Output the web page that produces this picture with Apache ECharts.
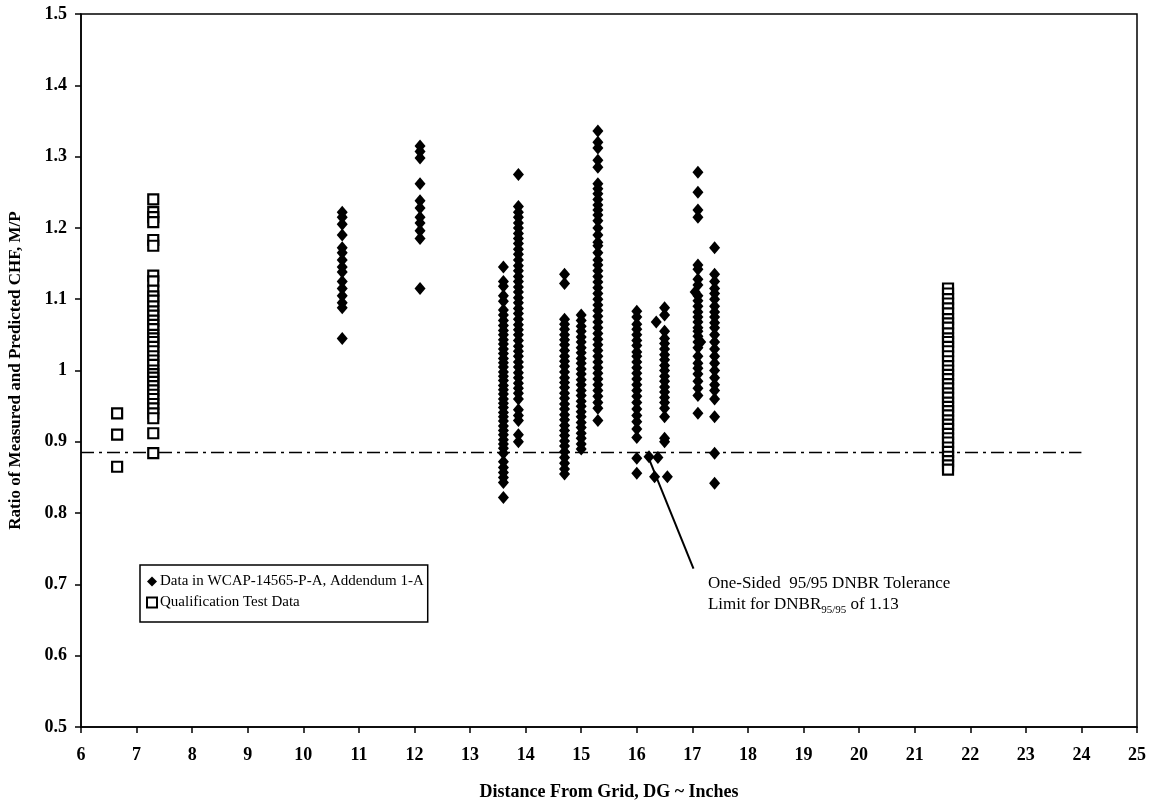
<!DOCTYPE html>
<html>
<head>
<meta charset="utf-8">
<script src="https://cdn.jsdelivr.net/npm/echarts@6/dist/echarts.min.js"></script>
<style>
  html, body { margin: 0; background: #fff; }
  #myChart { width: 1154px; height: 808px; }
</style>
</head>
<body>
<div id="myChart"></div>
<script>
// x ticks 6..25, y ticks 0.5..1.5
const xTicks = [6, 25, 1];
const yTicks = [0.5, 1.5, 0.1];

// WCAP-14565-P-A, Addendum 1-A data, one array per grid distance
const wcapX = [10.7, 12.1, 13.6, 13.87, 14.7, 15.0, 15.3, 16.0, 16.5, 17.1, 17.4];
const wcap107 = [1.222, 1.215, 1.205, 1.19, 1.172, 1.165, 1.155, 1.145, 1.138, 1.125, 1.115, 1.105, 1.095, 1.088, 1.045];
const wcap121 = [1.315, 1.307, 1.298, 1.262, 1.238, 1.228, 1.215, 1.207, 1.196, 1.185, 1.115];
const wcap136 = [1.145, 1.125, 1.118, 1.105, 1.097, 1.085, 1.078, 1.07, 1.063, 1.056, 1.05, 1.043, 1.037, 1.03, 1.024, 1.017, 1.011, 1.005, 0.998, 0.992, 0.986, 0.979, 0.973, 0.967, 0.96, 0.954, 0.948, 0.941, 0.935, 0.929, 0.922, 0.916, 0.91, 0.903, 0.897, 0.891, 0.884, 0.872, 0.864, 0.857, 0.85, 0.843, 0.822];
const wcap139 = [1.275, 1.23, 1.222, 1.215, 1.207, 1.2, 1.192, 1.185, 1.178, 1.17, 1.163, 1.155, 1.147, 1.14, 1.132, 1.125, 1.117, 1.11, 1.102, 1.095, 1.087, 1.08, 1.072, 1.064, 1.057, 1.05, 1.042, 1.034, 1.027, 1.02, 1.012, 1.005, 0.997, 0.99, 0.982, 0.975, 0.968, 0.96, 0.945, 0.937, 0.93, 0.91, 0.9];
const wcap147 = [1.135, 1.122, 1.072, 1.065, 1.058, 1.05, 1.043, 1.036, 1.028, 1.02, 1.013, 1.006, 0.998, 0.99, 0.983, 0.976, 0.968, 0.961, 0.953, 0.946, 0.938, 0.931, 0.923, 0.916, 0.909, 0.901, 0.894, 0.886, 0.878, 0.87, 0.862, 0.855];
const wcap150 = [1.078, 1.07, 1.062, 1.055, 1.047, 1.04, 1.032, 1.025, 1.017, 1.01, 1.002, 0.995, 0.987, 0.98, 0.972, 0.965, 0.957, 0.95, 0.942, 0.935, 0.927, 0.92, 0.912, 0.905, 0.897, 0.89];
const wcap153 = [1.336, 1.32, 1.312, 1.295, 1.285, 1.262, 1.255, 1.248, 1.24, 1.232, 1.225, 1.218, 1.21, 1.2, 1.19, 1.18, 1.175, 1.165, 1.155, 1.148, 1.14, 1.132, 1.124, 1.116, 1.108, 1.1, 1.092, 1.084, 1.076, 1.068, 1.06, 1.052, 1.044, 1.036, 1.028, 1.02, 1.012, 1.004, 0.996, 0.988, 0.98, 0.972, 0.964, 0.955, 0.947, 0.93];
const wcap160 = [1.083, 1.075, 1.065, 1.058, 1.05, 1.042, 1.035, 1.026, 1.02, 1.012, 1.004, 0.996, 0.988, 0.98, 0.972, 0.964, 0.955, 0.946, 0.937, 0.928, 0.918, 0.906, 0.877, 0.856];
const wcap165 = [1.088, 1.078, 1.055, 1.045, 1.038, 1.03, 1.022, 1.015, 1.007, 1.0, 0.992, 0.985, 0.977, 0.97, 0.962, 0.955, 0.947, 0.935, 0.905, 0.9];
const wcap171 = [1.278, 1.25, 1.225, 1.215, 1.148, 1.142, 1.128, 1.12, 1.105, 1.098, 1.09, 1.082, 1.075, 1.068, 1.06, 1.055, 1.048, 1.04, 1.032, 1.02, 1.01, 1.003, 0.995, 0.985, 0.975, 0.965, 0.94];
const wcap174 = [1.172, 1.135, 1.125, 1.115, 1.108, 1.1, 1.09, 1.082, 1.075, 1.067, 1.06, 1.05, 1.04, 1.03, 1.02, 1.01, 1.0, 0.99, 0.98, 0.972, 0.96, 0.935, 0.884, 0.842];
const wcapStray = [[16.22, 0.879], [16.38, 0.878], [16.32, 0.851], [16.55, 0.851], [16.35, 1.068], [17.05, 1.11], [17.15, 1.04]];

// qualification test data
const qualX = [6.65, 7.3, 21.6];
const qual665 = [0.94, 0.91, 0.865];
const qual73 = [1.24, 1.222, 1.215, 1.208, 1.183, 1.175, 1.133, 1.125, 1.112, 1.104, 1.098, 1.09, 1.083, 1.077, 1.07, 1.064, 1.058, 1.05, 1.045, 1.04, 1.033, 1.027, 1.02, 1.014, 1.008, 1.0, 0.995, 0.99, 0.984, 0.978, 0.972, 0.966, 0.96, 0.953, 0.947, 0.94, 0.933, 0.912, 0.884];
const qual216 = [1.115, 1.108, 1.1, 1.094, 1.087, 1.08, 1.072, 1.066, 1.06, 1.052, 1.045, 1.04, 1.033, 1.027, 1.02, 1.013, 1.006, 1.0, 0.994, 0.988, 0.981, 0.975, 0.968, 0.962, 0.955, 0.949, 0.943, 0.937, 0.93, 0.924, 0.918, 0.911, 0.905, 0.899, 0.892, 0.886, 0.879, 0.873, 0.867, 0.861];

// tolerance limit 1/1.13 and its annotation
const limitLine = [[6, 0.885], [24, 0.885]];
const arrowLine = [[17.02, 0.722], [16.2, 0.88]];
const noteAt = [17.28, 0.70];
const noteLines = ['One-Sided  95/95 DNBR Tolerance', 'Limit for DNBR{s|95/95} of 1.13'];

function columns(xs, cols) {
  let out = [];
  cols.forEach((vals, i) => vals.forEach(v => out.push([xs[i], v])));
  return out;
}

const wcapData = columns(wcapX, [wcap107, wcap121, wcap136, wcap139, wcap147, wcap150, wcap153, wcap160, wcap165, wcap171, wcap174]).concat(wcapStray);
const qualData = columns(qualX, [qual665, qual73, qual216]);

const serif = '"Liberation Serif", "DejaVu Serif", serif';

let myChart = echarts.init(document.getElementById('myChart'));
myChart.setOption({
  animation: false,
  textStyle: { fontFamily: serif, color: '#000' },
  grid: { left: 81, right: 17, top: 14, bottom: 81, outerBoundsMode: 'none',
    show: true, borderColor: '#000', borderWidth: 1.5 },
  xAxis: {
    type: 'value', min: xTicks[0], max: xTicks[1], interval: xTicks[2],
    name: 'Distance From Grid, DG ~ Inches', nameLocation: 'middle', nameGap: 56,
    nameTextStyle: { fontFamily: serif, fontWeight: 'bold', fontSize: 18, color: '#000' },
    axisLine: { lineStyle: { color: '#000', width: 1.5 } },
    axisTick: { inside: false, length: 6, lineStyle: { color: '#000', width: 1.5 } },
    axisLabel: { fontFamily: serif, fontWeight: 'bold', fontSize: 18, color: '#000', margin: 19 },
    splitLine: { show: false }
  },
  yAxis: {
    type: 'value', min: yTicks[0], max: yTicks[1], interval: yTicks[2],
    name: 'Ratio of Measured and Predicted CHF, M/P', nameLocation: 'middle', nameGap: 57,
    nameTextStyle: { fontFamily: serif, fontWeight: 'bold', fontSize: 17, color: '#000' },
    axisLine: { lineStyle: { color: '#000', width: 1.5 } },
    axisTick: { inside: false, length: 6, lineStyle: { color: '#000', width: 1.5 } },
    axisLabel: { fontFamily: serif, fontWeight: 'bold', fontSize: 18, color: '#000', margin: 14,
      formatter: v => String(+v.toFixed(1)) },
    splitLine: { show: false }
  },
  legend: {
    data: ['Data in WCAP-14565-P-A, Addendum 1-A', 'Qualification Test Data'],
    orient: 'vertical', left: 140, top: 565,
    padding: [9, 4, 12, 6], itemGap: 6, itemWidth: 10, itemHeight: 10,
    borderColor: '#000', borderWidth: 1.5, borderRadius: 0,
    textStyle: { fontFamily: serif, fontSize: 15, color: '#000', padding: [0, 0, 0, -2] }
  },
  series: [
    {
      name: 'Data in WCAP-14565-P-A, Addendum 1-A', type: 'scatter',
      symbol: 'diamond', symbolSize: [11, 13],
      itemStyle: { color: '#000', opacity: 1 },
      data: wcapData, z: 3
    },
    {
      name: 'Qualification Test Data', type: 'scatter',
      symbol: 'rect', symbolSize: 10,
      itemStyle: { color: '#fff', borderColor: '#000', borderWidth: 2.2, opacity: 1 },
      data: qualData, z: 4
    },
    {
      name: 'limit', type: 'line', data: limitLine, showSymbol: false, silent: true,
      lineStyle: { color: '#000', width: 1.5, type: [13, 5, 3, 5] }, z: 2
    },
    {
      name: 'arrow', type: 'line', data: arrowLine, showSymbol: false, silent: true,
      lineStyle: { color: '#000', width: 2 }, z: 5
    }
  ]
});

// annotation text placed through the axes
const p = myChart.convertToPixel({ gridIndex: 0 }, noteAt);
myChart.setOption({
  graphic: [{
    type: 'text', left: p[0], top: p[1] - 11,
    style: {
      text: noteLines.join('\n'),
      font: '17px ' + serif, fill: '#000', lineHeight: 21,
      rich: { s: { fontSize: 11, fontFamily: serif, verticalAlign: 'bottom', padding: [7, 0, 0, 0] } }
    }
  }]
});
</script>
</body>
</html>
